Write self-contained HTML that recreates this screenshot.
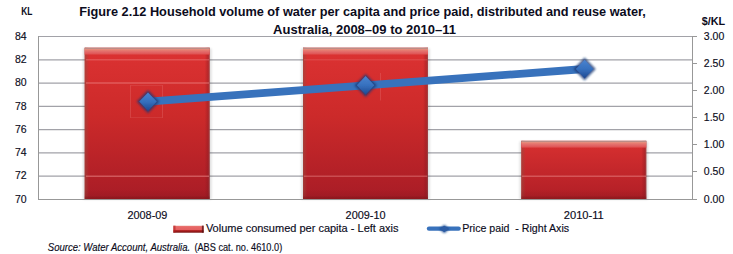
<!DOCTYPE html>
<html><head><meta charset="utf-8">
<style>
html,body{margin:0;padding:0;background:#fff;}
body{width:733px;height:254px;overflow:hidden;position:relative;}
svg{position:absolute;left:0;top:0;}
text{font-family:"Liberation Sans",sans-serif;fill:#0c0c1c;stroke:#0c0c1c;stroke-width:0.15px;}
text[font-weight="bold"]{stroke:none;}
</style></head>
<body>
<svg width="733" height="254" viewBox="0 0 733 254">
<defs>
  <filter id="blur3" x="-50%" y="-50%" width="200%" height="200%"><feGaussianBlur stdDeviation="0.45"/></filter>
  <filter id="blur2" x="-20%" y="-20%" width="140%" height="140%"><feGaussianBlur stdDeviation="1.2"/></filter>
  <linearGradient id="swg" x1="0" y1="0" x2="0" y2="1">
    <stop offset="0" stop-color="#f0b8b0"/>
    <stop offset="0.14" stop-color="#e86a68"/>
    <stop offset="0.6" stop-color="#e46060"/>
    <stop offset="0.66" stop-color="#b82828"/>
    <stop offset="0.82" stop-color="#a01c1c"/>
    <stop offset="0.86" stop-color="#801010"/>
    <stop offset="1" stop-color="#781010"/>
  </linearGradient>
  <filter id="blur1" x="-50%" y="-50%" width="200%" height="200%"><feGaussianBlur stdDeviation="0.9"/></filter>
  <linearGradient id="barg" x1="0" y1="0" x2="0" y2="1">
    <stop offset="0" stop-color="#dc3232"/>
    <stop offset="0.45" stop-color="#cc2a2a"/>
    <stop offset="1" stop-color="#a81c26"/>
  </linearGradient>
  <linearGradient id="barg3" x1="0" y1="0" x2="0" y2="1">
    <stop offset="0" stop-color="#d83030"/>
    <stop offset="1" stop-color="#b01e26"/>
  </linearGradient>
  <linearGradient id="barside" x1="0" y1="0" x2="1" y2="0">
    <stop offset="0" stop-color="#9a4a40" stop-opacity="0.7"/>
    <stop offset="0.016" stop-color="#9a4a40" stop-opacity="0.35"/>
    <stop offset="0.035" stop-color="#9a4a40" stop-opacity="0"/>
    <stop offset="0.96" stop-color="#801820" stop-opacity="0"/>
    <stop offset="0.985" stop-color="#801820" stop-opacity="0.35"/>
    <stop offset="1" stop-color="#806060" stop-opacity="0.6"/>
  </linearGradient>
  <linearGradient id="topband" x1="0" y1="0" x2="0" y2="1">
    <stop offset="0" stop-color="#b48a86"/>
    <stop offset="0.1" stop-color="#bc8c86"/>
    <stop offset="0.2" stop-color="#e48e7e"/>
    <stop offset="0.35" stop-color="#e67a70"/>
    <stop offset="0.55" stop-color="#e26868"/>
    <stop offset="0.78" stop-color="#e05656"/>
    <stop offset="0.9" stop-color="#dc4444" stop-opacity="0.6"/>
    <stop offset="1" stop-color="#dc3434" stop-opacity="0"/>
  </linearGradient>
  <linearGradient id="botband" x1="0" y1="0" x2="0" y2="1">
    <stop offset="0" stop-color="#801418" stop-opacity="0"/>
    <stop offset="0.6" stop-color="#861820" stop-opacity="0.25"/>
    <stop offset="0.85" stop-color="#7a1418" stop-opacity="0.6"/>
    <stop offset="1" stop-color="#7a1418" stop-opacity="0.5"/>
  </linearGradient>
  <linearGradient id="diam" x1="0" y1="0" x2="0" y2="1">
    <stop offset="0" stop-color="#4a84d0"/>
    <stop offset="0.5" stop-color="#3670be"/>
    <stop offset="1" stop-color="#1e4890"/>
  </linearGradient>
</defs>

<!-- gridlines -->
<g stroke="#a2a2a8" stroke-width="1.25">
  <line x1="38" y1="36.5" x2="693" y2="36.5" stroke-width="1"/>
  <line x1="38" y1="59.79" x2="693" y2="59.79"/>
  <line x1="38" y1="83.07" x2="693" y2="83.07"/>
  <line x1="38" y1="106.36" x2="693" y2="106.36"/>
  <line x1="38" y1="129.64" x2="693" y2="129.64"/>
  <line x1="38" y1="152.93" x2="693" y2="152.93"/>
  <line x1="38" y1="176.21" x2="693" y2="176.21"/>
</g>

<!-- bars -->
<g id="bars">
  <!-- shadows -->
  <g fill="#000" opacity="0.13" filter="url(#blur2)">
    <rect x="83" y="48.5" width="128.5" height="151"/>
    <rect x="301.3" y="48.5" width="128.5" height="151"/>
    <rect x="519.6" y="141.5" width="128.5" height="58"/>
  </g>
  <rect x="84.7" y="47.7" width="125" height="151.8" fill="url(#barg)"/>
  <rect x="84.7" y="47.7" width="125" height="151.8" fill="url(#barside)"/>
  <rect x="84.7" y="47.7" width="125" height="7.8" fill="url(#topband)"/>
  <rect x="84.7" y="189.5" width="125" height="10" fill="url(#botband)"/>

  <rect x="303" y="47.7" width="125" height="151.8" fill="url(#barg)"/>
  <rect x="303" y="47.7" width="125" height="151.8" fill="url(#barside)"/>
  <rect x="303" y="47.7" width="125" height="7.8" fill="url(#topband)"/>
  <rect x="303" y="189.5" width="125" height="10" fill="url(#botband)"/>

  <rect x="521.3" y="140.8" width="125" height="58.7" fill="url(#barg3)"/>
  <rect x="521.3" y="140.8" width="125" height="58.7" fill="url(#barside)"/>
  <rect x="521.3" y="140.8" width="125" height="7.8" fill="url(#topband)"/>
  <rect x="521.3" y="189.5" width="125" height="10" fill="url(#botband)"/>
</g>
<!-- gridlines over bars (faint) -->
<g stroke="#f09090" stroke-width="1.5">
  <line x1="86" y1="59.79" x2="209" y2="59.79" opacity="0.35"/>
  <line x1="86" y1="83.07" x2="209" y2="83.07" opacity="0.45"/>
  <line x1="86" y1="176.21" x2="209" y2="176.21" opacity="0.5"/>
  <line x1="304" y1="59.79" x2="427" y2="59.79" opacity="0.2"/>
  <line x1="304" y1="176.21" x2="427" y2="176.21" opacity="0.4"/>
  <line x1="522" y1="176.21" x2="646" y2="176.21" opacity="0.45"/>
</g>
<!-- light artifact lines around markers -->
<g stroke="#ffc0c0" stroke-width="1" stroke-opacity="0.16">
  <line x1="130.5" y1="85" x2="130.5" y2="118"/>
  <line x1="162.5" y1="85" x2="162.5" y2="118"/>
  <line x1="380.5" y1="73" x2="380.5" y2="100.5"/>
</g>
<g stroke="#ffc0c0" stroke-width="1" stroke-opacity="0.1">
  <line x1="131" y1="85.5" x2="162" y2="85.5"/>
  <line x1="131" y1="117.5" x2="162" y2="117.5"/>
</g>

<!-- axes -->
<g stroke="#989898" stroke-width="1">
  <line x1="38.5" y1="36" x2="38.5" y2="200"/>
  <line x1="38" y1="199.5" x2="693" y2="199.5"/>
  <line x1="692.5" y1="36" x2="692.5" y2="200"/>
  <line x1="692" y1="36.5" x2="697" y2="36.5"/>
  <line x1="692" y1="63.5" x2="697" y2="63.5"/>
  <line x1="692" y1="90.5" x2="697" y2="90.5"/>
  <line x1="692" y1="117.5" x2="697" y2="117.5"/>
  <line x1="692" y1="144.5" x2="697" y2="144.5"/>
  <line x1="692" y1="171.5" x2="697" y2="171.5"/>
  <line x1="692" y1="199.5" x2="697" y2="199.5"/>
</g>

<!-- line series -->
<polyline points="148,101.6 365.6,85.3 584.6,69" fill="none" stroke="#3872bc" stroke-width="7.8" stroke-linejoin="round"/>
<g fill="#1a3874" filter="url(#blur1)" opacity="0.8">
  <path d="M148,90.2 L159.2,101.6 L148,113.2 L136.8,101.6 Z"/>
  <path d="M365.6,73.9 L376.8,85.3 L365.6,96.9 L354.4,85.3 Z"/>
  <path d="M584.6,57.6 L595.8,69 L584.6,80.6 L573.4,69 Z"/>
</g>
<g fill="url(#diam)" filter="url(#blur3)">
  <path d="M148,92.4 L156.8,101.6 L148,111 L139.2,101.6 Z"/>
  <path d="M365.6,76.1 L374.4,85.3 L365.6,94.7 L356.8,85.3 Z"/>
  <path d="M584.6,59.8 L593.4,69 L584.6,78.4 L575.8,69 Z"/>
</g>

<!-- title -->
<text x="79.2" y="15.7" font-size="12.2" font-weight="bold" textLength="566.6" lengthAdjust="spacingAndGlyphs">Figure 2.12 Household volume of water per capita and price paid, distributed and reuse water,</text>
<text x="273.1" y="33.9" font-size="12.2" font-weight="bold" textLength="182.8" lengthAdjust="spacingAndGlyphs">Australia, 2008–09 to 2010–11</text>
<text x="21.2" y="15.1" font-size="10.5" font-weight="bold" textLength="11.2" lengthAdjust="spacingAndGlyphs">KL</text>
<text x="701.8" y="24.5" font-size="10" font-weight="bold" textLength="23.4" lengthAdjust="spacingAndGlyphs">$/KL</text>

<!-- left axis labels -->
<g font-size="10.5" text-anchor="end">
  <text x="26.6" y="40.1">84</text>
  <text x="26.6" y="63.1">82</text>
  <text x="26.6" y="86.1">80</text>
  <text x="26.6" y="110.1">78</text>
  <text x="26.6" y="133.1">76</text>
  <text x="26.6" y="156.1">74</text>
  <text x="26.6" y="179.1">72</text>
  <text x="26.6" y="203.1">70</text>
</g>
<!-- right axis labels -->
<g font-size="10.5">
  <text x="703.8" y="39.9">3.00</text>
  <text x="703.8" y="67.0">2.50</text>
  <text x="703.8" y="94.2">2.00</text>
  <text x="703.8" y="121.4">1.50</text>
  <text x="703.8" y="148.1">1.00</text>
  <text x="703.8" y="175.0">0.50</text>
  <text x="703.8" y="202.9">0.00</text>
</g>
<!-- category labels -->
<g font-size="10.5" text-anchor="middle">
  <text x="147.4" y="218.6" textLength="40" lengthAdjust="spacingAndGlyphs">2008-09</text>
  <text x="365.6" y="218.6" textLength="40" lengthAdjust="spacingAndGlyphs">2009-10</text>
  <text x="583.8" y="218.6" textLength="40" lengthAdjust="spacingAndGlyphs">2010-11</text>
</g>

<!-- legend -->
<rect x="173.3" y="225.6" width="30.4" height="7.1" fill="url(#swg)"/>
<rect x="173.3" y="225.6" width="2.2" height="7.1" fill="#b02020" opacity="0.6"/>
<rect x="201.9" y="225.6" width="1.8" height="7.1" fill="#501010" opacity="0.75"/>
<text x="205.9" y="232" font-size="10.5" textLength="192.6" lengthAdjust="spacingAndGlyphs">Volume consumed per capita - Left axis</text>
<line x1="429" y1="228.6" x2="458.6" y2="228.6" stroke="#3872bc" stroke-width="4.4" stroke-linecap="round"/>
<path d="M444.3,224.8 L449.5,229 L444.3,233.2 L439.1,229 Z" fill="#1e4c92" filter="url(#blur1)" opacity="0.9"/>
<path d="M444.3,225.8 L448.5,229 L444.3,232.2 L440.1,229 Z" fill="#2c5ca4"/>
<text x="462.2" y="232" font-size="10.5" textLength="106.9" lengthAdjust="spacingAndGlyphs" xml:space="preserve">Price paid  - Right Axis</text>

<!-- source -->
<text x="47.8" y="250.6" font-size="10.2" font-style="italic" textLength="142.4" lengthAdjust="spacingAndGlyphs">Source: Water Account, Australia.</text>
<text x="194.4" y="250.6" font-size="10.2" textLength="87.8" lengthAdjust="spacingAndGlyphs">(ABS cat. no. 4610.0)</text>
</svg>
</body></html>
